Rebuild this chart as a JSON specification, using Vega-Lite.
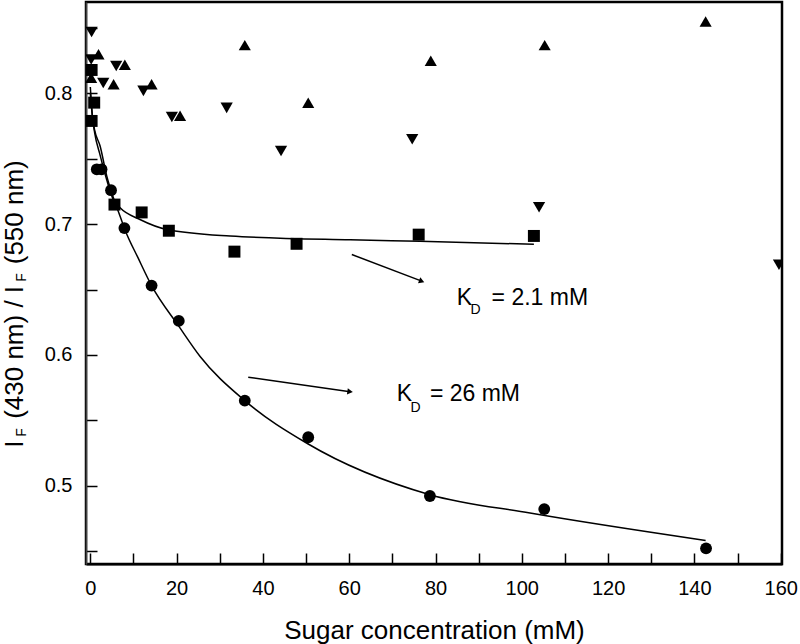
{
  "$schema": "https://vega.github.io/schema/vega-lite/v6.json",
  "width": 696,
  "height": 562,
  "autosize": "none",
  "padding": {"left": 86, "top": 2, "right": 18, "bottom": 80},
  "background": "white",
  "config": {
    "view": {"stroke": "black", "strokeWidth": 2.5},
    "font": "Liberation Sans"
  },
  "datasets": {
    "points": [
      {"series": "circle", "x": 1.5, "y": 0.742},
      {"series": "circle", "x": 2.6, "y": 0.742},
      {"series": "circle", "x": 4.8, "y": 0.726},
      {"series": "circle", "x": 7.9, "y": 0.697},
      {"series": "circle", "x": 14.2, "y": 0.653},
      {"series": "circle", "x": 20.5, "y": 0.626},
      {"series": "circle", "x": 35.8, "y": 0.565},
      {"series": "circle", "x": 50.5, "y": 0.537},
      {"series": "circle", "x": 78.7, "y": 0.492},
      {"series": "circle", "x": 105.2, "y": 0.482},
      {"series": "circle", "x": 142.7, "y": 0.452},
      {"series": "square", "x": 0.3, "y": 0.779},
      {"series": "square", "x": 0.9, "y": 0.793},
      {"series": "square", "x": 0.3, "y": 0.818},
      {"series": "square", "x": 5.6, "y": 0.715},
      {"series": "square", "x": 11.9, "y": 0.709},
      {"series": "square", "x": 18.2, "y": 0.695},
      {"series": "square", "x": 33.4, "y": 0.679},
      {"series": "square", "x": 47.8, "y": 0.685},
      {"series": "square", "x": 76.1, "y": 0.692},
      {"series": "square", "x": 102.8, "y": 0.691},
      {"series": "up", "x": 1.9, "y": 0.83},
      {"series": "up", "x": 0.2, "y": 0.812},
      {"series": "up", "x": 5.4, "y": 0.807},
      {"series": "up", "x": 8.0, "y": 0.822},
      {"series": "up", "x": 14.2, "y": 0.807},
      {"series": "up", "x": 20.8, "y": 0.783},
      {"series": "up", "x": 35.8, "y": 0.837},
      {"series": "up", "x": 50.5, "y": 0.793},
      {"series": "up", "x": 78.9, "y": 0.825},
      {"series": "up", "x": 105.3, "y": 0.837},
      {"series": "up", "x": 142.6, "y": 0.855},
      {"series": "down", "x": 0.3, "y": 0.847},
      {"series": "down", "x": 0.2, "y": 0.826},
      {"series": "down", "x": 3.0, "y": 0.808},
      {"series": "down", "x": 6.0, "y": 0.821},
      {"series": "down", "x": 12.3, "y": 0.802},
      {"series": "down", "x": 18.9, "y": 0.782},
      {"series": "down", "x": 31.6, "y": 0.789},
      {"series": "down", "x": 44.2, "y": 0.756},
      {"series": "down", "x": 74.6, "y": 0.765},
      {"series": "down", "x": 104.0, "y": 0.713},
      {"series": "down", "x": 159.6, "y": 0.669}
    ],
    "fits": [
      {"fit": "KD26", "x": 0, "y": 0.8},
      {"fit": "KD26", "x": 0.5, "y": 0.782},
      {"fit": "KD26", "x": 1.0, "y": 0.772},
      {"fit": "KD26", "x": 2.25, "y": 0.76},
      {"fit": "KD26", "x": 3.8, "y": 0.737},
      {"fit": "KD26", "x": 4.96, "y": 0.724},
      {"fit": "KD26", "x": 6.9, "y": 0.706},
      {"fit": "KD26", "x": 8.0, "y": 0.696},
      {"fit": "KD26", "x": 11.1, "y": 0.674},
      {"fit": "KD26", "x": 14.2, "y": 0.653},
      {"fit": "KD26", "x": 20.5, "y": 0.622},
      {"fit": "KD26", "x": 25.4, "y": 0.599},
      {"fit": "KD26", "x": 35.8, "y": 0.565},
      {"fit": "KD26", "x": 50.4, "y": 0.532},
      {"fit": "KD26", "x": 78.7, "y": 0.493},
      {"fit": "KD26", "x": 101.9, "y": 0.479},
      {"fit": "KD26", "x": 142.6, "y": 0.458},
      {"fit": "KD2.1", "x": 0, "y": 0.805},
      {"fit": "KD2.1", "x": 0.5, "y": 0.782},
      {"fit": "KD2.1", "x": 1.0, "y": 0.77},
      {"fit": "KD2.1", "x": 2.25, "y": 0.753},
      {"fit": "KD2.1", "x": 3.8, "y": 0.734},
      {"fit": "KD2.1", "x": 5.3, "y": 0.719},
      {"fit": "KD2.1", "x": 6.9, "y": 0.7125},
      {"fit": "KD2.1", "x": 11.5, "y": 0.7036},
      {"fit": "KD2.1", "x": 17.7, "y": 0.696},
      {"fit": "KD2.1", "x": 32.4, "y": 0.691},
      {"fit": "KD2.1", "x": 60.2, "y": 0.688},
      {"fit": "KD2.1", "x": 76.4, "y": 0.687},
      {"fit": "KD2.1", "x": 102.8, "y": 0.6846}
    ],
    "arrows": [
      {"arrow": "a1", "x": 60.6, "y": 0.6768, "x2": 76.8, "y2": 0.6564},
      {"arrow": "a2", "x": 36.6, "y": 0.5829, "x2": 60.2, "y2": 0.5718}
    ],
    "labels": [
      {"x": 84.9, "y": 0.6439, "text": "K"},
      {"x": 93.0, "y": 0.6439, "text": "= 2.1 mM"},
      {"x": 71.0, "y": 0.5697, "text": "K"},
      {"x": 78.7, "y": 0.5697, "text": "= 26 mM"}
    ],
    "subs": [
      {"x": 89.3, "y": 0.6344, "text": "D"},
      {"x": 75.4, "y": 0.5595, "text": "D"}
    ],
    "ysubs": [
      {"x": -15.8, "y": 0.5406, "text": "F"},
      {"x": -15.8, "y": 0.6592, "text": "F"}
    ]
  },
  "encoding": {
    "x": {
      "field": "x",
      "type": "quantitative",
      "scale": {"domain": [-1, 160.3], "nice": false, "zero": false},
      "axis": {
        "title": "Sugar concentration (mM)",
        "values": [0, 10, 20, 30, 40, 50, 60, 70, 80, 90, 100, 110, 120, 130, 140, 150, 160],
        "labelExpr": "datum.value % 20 == 0 ? format(datum.value, 'd') : ''",
        "tickSize": -11,
        "tickColor": "black",
        "tickWidth": 1.5,
        "domainColor": "black",
        "domainWidth": 2,
        "grid": false,
        "labelFontSize": 20,
        "labelColor": "black",
        "labelPadding": 25,
        "labelFlush": false,
        "titleFontSize": 26,
        "titleFontWeight": "normal",
        "titleColor": "black",
        "titleX": 348,
        "titleY": 66,
        "titleAlign": "center",
        "titleBaseline": "middle",
        "encode": {
          "ticks": {"update": {"y2": {"signal": "datum.value % 20 == 0 ? -11 : -6"}}}
        }
      }
    },
    "y": {
      "field": "y",
      "type": "quantitative",
      "scale": {"domain": [0.44, 0.87], "nice": false, "zero": false},
      "axis": {
        "title": "I\u00a0\u00a0\u00a0(430 nm) / I\u00a0\u00a0\u00a0(550 nm)",
        "values": [0.45, 0.5, 0.55, 0.6, 0.65, 0.7, 0.75, 0.8, 0.85],
        "labelExpr": "round(datum.value * 100) % 10 == 0 ? format(datum.value, '.1f') : ''",
        "tickSize": -11,
        "tickColor": "black",
        "tickWidth": 1.5,
        "domainColor": "#444444",
        "domainWidth": 1.5,
        "grid": false,
        "labelFontSize": 20,
        "labelColor": "black",
        "labelPadding": 25,
        "labelFlush": false,
        "titleFontSize": 26,
        "titleFontWeight": "normal",
        "titleColor": "black",
        "titleAngle": 270,
        "titleX": -72,
        "titleY": 301.5,
        "titleAlign": "center",
        "titleBaseline": "middle",
        "encode": {
          "ticks": {"update": {"x2": {"signal": "round(datum.value * 100) % 10 == 0 ? 11 : 6"}}}
        }
      }
    }
  },
  "layer": [
    {
      "data": {"name": "fits"},
      "mark": {"type": "line", "color": "black", "strokeWidth": 1.5, "clip": true, "interpolate": "monotone"},
      "encoding": {"detail": {"field": "fit", "type": "nominal"}}
    },
    {
      "data": {"name": "points"},
      "mark": {"type": "point", "filled": true, "opacity": 1, "color": "black", "clip": true},
      "encoding": {
        "shape": {
          "field": "series",
          "type": "nominal",
          "scale": {"domain": ["circle", "square", "up", "down"], "range": ["circle", "square", "triangle-up", "triangle-down"]},
          "legend": null
        },
        "size": {
          "field": "series",
          "type": "ordinal",
          "scale": {"domain": ["circle", "square", "up", "down"], "range": [140, 150, 240, 240]},
          "legend": null
        }
      }
    },
    {
      "data": {"name": "arrows"},
      "mark": {"type": "rule", "color": "black", "strokeWidth": 1.5},
      "encoding": {"x2": {"field": "x2"}, "y2": {"field": "y2"}}
    },
    {
      "data": {"name": "arrows"},
      "transform": [{"filter": "datum.arrow == 'a1'"}],
      "mark": {"type": "point", "shape": "triangle-right", "filled": true, "color": "black", "opacity": 1, "size": 40, "angle": 21},
      "encoding": {"x": {"field": "x2", "type": "quantitative"}, "y": {"field": "y2", "type": "quantitative"}}
    },
    {
      "data": {"name": "arrows"},
      "transform": [{"filter": "datum.arrow == 'a2'"}],
      "mark": {"type": "point", "shape": "triangle-right", "filled": true, "color": "black", "opacity": 1, "size": 40, "angle": 8},
      "encoding": {"x": {"field": "x2", "type": "quantitative"}, "y": {"field": "y2", "type": "quantitative"}}
    },
    {
      "data": {"name": "labels"},
      "mark": {"type": "text", "align": "left", "baseline": "middle", "fontSize": 23, "color": "black"},
      "encoding": {"text": {"field": "text"}}
    },
    {
      "data": {"name": "subs"},
      "mark": {"type": "text", "align": "center", "baseline": "middle", "fontSize": 14, "color": "black"},
      "encoding": {"text": {"field": "text"}}
    },
    {
      "data": {"name": "ysubs"},
      "mark": {"type": "text", "align": "center", "baseline": "middle", "fontSize": 14, "color": "black", "angle": 270, "clip": false},
      "encoding": {"text": {"field": "text"}}
    }
  ]
}
